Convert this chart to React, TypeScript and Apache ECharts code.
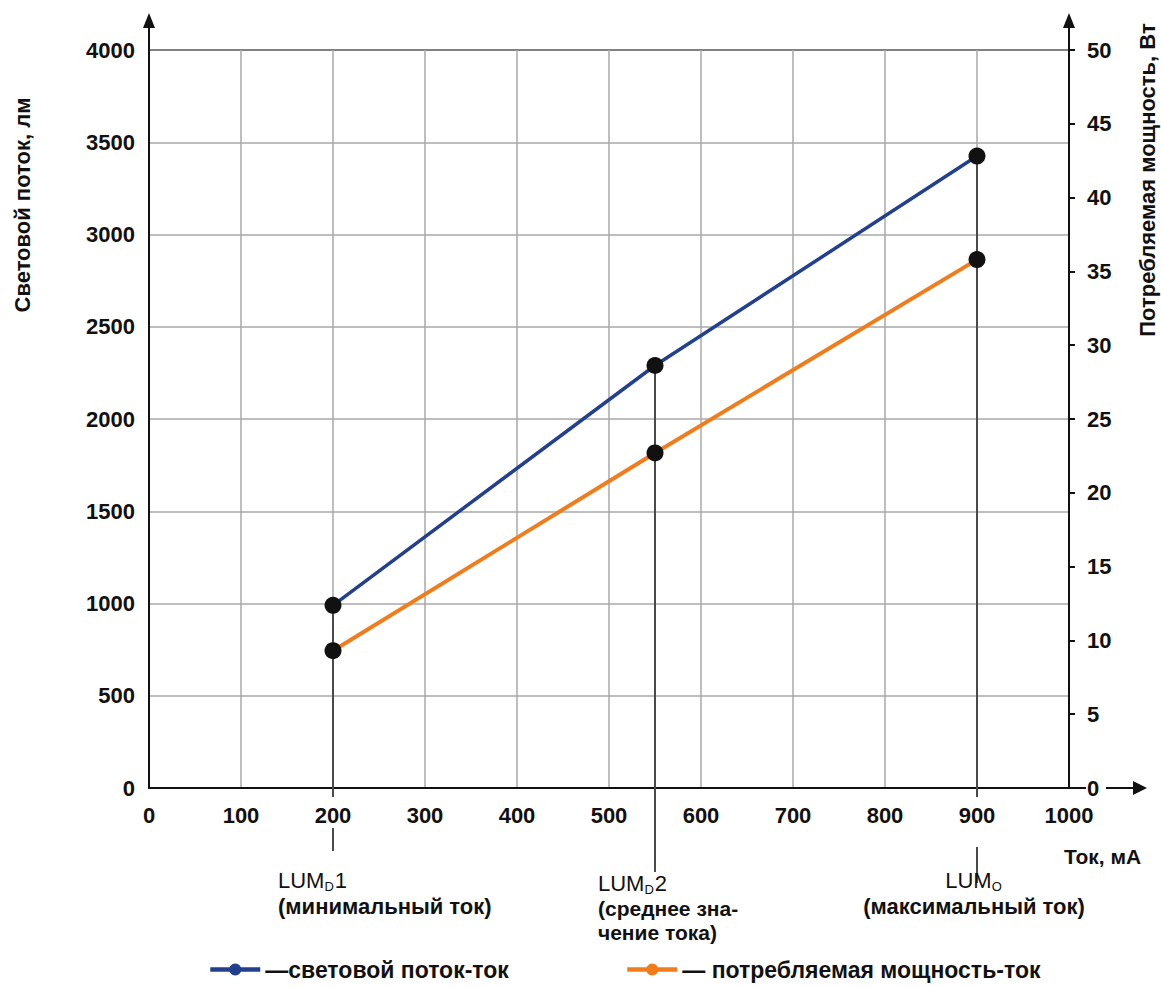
import React, { useEffect, useRef } from "react";
import * as echarts from "echarts";

// ---- data ----
const currents = [200, 550, 900]; // мА
const flux = [990, 2290, 3425]; // лм
const power = [9.3, 22.7, 35.8]; // Вт
const seriesNames = ["световой поток-ток", "потребляемая мощность-ток"];
const lumMain = ["LUM", "LUM", "LUM"];
const lumSub = ["D", "D", "O"];
const lumTail = ["1", "2", ""];
const lumNotes = [["(минимальный ток)"], ["(среднее зна-", "чение тока)"], ["(максимальный ток)"]];

// ---- layout / style for annotations (pixel offsets below the x axis) ----
const dropLayout = [
  { tick: 9, seg: [40, 63], textDx: -55, align: "left", lumY: 92, noteTop: 107, noteSize: 22, noteLH: 24 },
  { tick: 84, seg: null, textDx: -57, align: "left", lumY: 95, noteTop: 110, noteSize: 21, noteLH: 24 },
  { tick: 9, seg: [59, 95], textDx: -3, align: "center", lumY: 92, noteTop: 107, noteSize: 22, noteLH: 24 },
];
const LUM_SIZE = 22;
const SUB_SIZE = 13;
const SUB_DROP = 6;

const FONT = "'Liberation Sans', Arial, Helvetica, sans-serif";
const BLUE = "#23408e";
const ORANGE = "#f07c1c";
const INK = "#111";
const plain = (v: number) => String(v);

export default function App() {
  const ref = useRef<HTMLDivElement>(null);

  useEffect(() => {
    if (!ref.current) return;
    const chart = echarts.init(ref.current, undefined, { renderer: "svg" });

    const ctx = document.createElement("canvas").getContext("2d") as CanvasRenderingContext2D;
    const measure = (t: string, size: number) => {
      if (!t) return 0;
      ctx.font = `${size}px ${FONT}`;
      return ctx.measureText(t).width;
    };

    const fluxData = currents.map((c, i) => [c, flux[i]]);
    const powerData = currents.map((c, i) => [c, power[i]]);
    const tickFont = { color: INK, fontSize: 22, fontWeight: "bold", fontFamily: FONT, formatter: plain };
    const legendText = { fontSize: 23, fontWeight: "bold", color: INK, fontFamily: FONT };

    const option: any = {
      animation: false,
      textStyle: { fontFamily: FONT },
      grid: {
        left: 149,
        right: 92,
        top: 50,
        bottom: 199,
        show: true,
        borderColor: INK,
        borderWidth: 2,
        backgroundColor: "transparent",
      },
      xAxis: {
        type: "value",
        min: 0,
        max: 1000,
        interval: 100,
        axisLine: { show: true, onZero: false, lineStyle: { color: INK, width: 2 } },
        axisTick: { show: false },
        axisLabel: { ...tickFont, margin: 16 },
        splitLine: { show: true, lineStyle: { color: "#a9a9a9", width: 1.5 } },
      },
      yAxis: [
        {
          type: "value",
          min: 0,
          max: 4000,
          interval: 500,
          position: "left",
          axisLine: { show: true, lineStyle: { color: INK, width: 2 } },
          axisTick: { show: false },
          axisLabel: { ...tickFont, margin: 14 },
          splitLine: { show: true, lineStyle: { color: "#a9a9a9", width: 1.5 } },
        },
        {
          type: "value",
          min: 0,
          max: 50,
          interval: 5,
          position: "right",
          axisLine: { show: true, lineStyle: { color: INK, width: 2 } },
          axisTick: { show: true, inside: false, length: 6, lineStyle: { color: INK, width: 2 } },
          axisLabel: { ...tickFont, margin: 18 },
          splitLine: { show: false },
        },
      ],
      legend: [
        {
          data: [{ name: seriesNames[0], itemStyle: { color: BLUE }, lineStyle: { width: 4.5 } }],
          left: 208,
          top: 958,
          padding: 0,
          itemWidth: 50,
          itemHeight: 15,
          formatter: (n: string) => "—" + n,
          textStyle: legendText,
        },
        {
          data: [{ name: seriesNames[1], itemStyle: { color: ORANGE }, lineStyle: { width: 4.5 } }],
          left: 625,
          top: 958,
          padding: 0,
          itemWidth: 50,
          itemHeight: 15,
          formatter: (n: string) => "— " + n,
          textStyle: legendText,
        },
      ],
      series: [
        {
          type: "custom",
          name: "drop",
          xAxisIndex: 0,
          yAxisIndex: 0,
          z: 1,
          clip: false,
          silent: true,
          data: fluxData,
          renderItem: (params: any, api: any) => {
            const i = params.dataIndex;
            const lay = dropLayout[i];
            const x = api.value(0);
            const top = api.coord([x, api.value(1)]);
            const base = api.coord([x, 0]);
            const stroke = { stroke: "#4a4a4a", lineWidth: 2 };
            const children: any[] = [
              {
                type: "line",
                shape: { x1: top[0], y1: top[1], x2: base[0], y2: base[1] + lay.tick },
                style: stroke,
              },
            ];
            if (lay.seg) {
              children.push({
                type: "line",
                shape: { x1: base[0], y1: base[1] + lay.seg[0], x2: base[0], y2: base[1] + lay.seg[1] },
                style: stroke,
              });
            }
            // "LUM" + subscript + tail, laid out from measured widths
            const wMain = measure(lumMain[i], LUM_SIZE);
            const wSub = measure(lumSub[i], SUB_SIZE) + 1;
            const wTail = measure(lumTail[i], LUM_SIZE);
            const total = wMain + wSub + wTail;
            const ax = base[0] + lay.textDx;
            const startX = lay.align === "center" ? ax - total / 2 : ax;
            const ly = base[1] + lay.lumY;
            const txt = (t: string, tx: number, ty: number, size: number) => ({
              type: "text",
              x: tx,
              y: ty,
              style: {
                text: t,
                align: "left",
                verticalAlign: "middle",
                fontSize: size,
                fontFamily: FONT,
                fill: INK,
              },
            });
            children.push(txt(lumMain[i], startX, ly, LUM_SIZE));
            children.push(txt(lumSub[i], startX + wMain, ly + SUB_DROP, SUB_SIZE));
            if (lumTail[i]) children.push(txt(lumTail[i], startX + wMain + wSub, ly, LUM_SIZE));
            lumNotes[i].forEach((note, k) => {
              children.push({
                type: "text",
                x: ax,
                y: base[1] + lay.noteTop + k * lay.noteLH,
                style: {
                  text: note,
                  align: lay.align,
                  verticalAlign: "top",
                  fontSize: lay.noteSize,
                  fontWeight: "bold",
                  fontFamily: FONT,
                  fill: INK,
                },
              });
            });
            return { type: "group", children };
          },
        },
        {
          type: "line",
          name: seriesNames[0],
          yAxisIndex: 0,
          data: fluxData,
          symbol: "circle",
          symbolSize: 17,
          z: 3,
          lineStyle: { color: BLUE, width: 3.5 },
          itemStyle: { color: INK },
        },
        {
          type: "line",
          name: seriesNames[1],
          yAxisIndex: 1,
          data: powerData,
          symbol: "circle",
          symbolSize: 17,
          z: 3,
          lineStyle: { color: ORANGE, width: 4 },
          itemStyle: { color: INK },
        },
      ],
    };

    chart.setOption(option);

    // decorations (arrows, axis names) placed from the axes' own pixel positions
    const origin = chart.convertToPixel({ gridIndex: 0 }, [0, 0]) as number[];
    const corner = chart.convertToPixel({ gridIndex: 0 }, [1000, 4000]) as number[];
    const x0 = origin[0];
    const y0 = origin[1];
    const x1 = corner[0];
    const yTop = corner[1];
    const axisStroke = { stroke: INK, lineWidth: 2 };
    const arrowUp = (x: number) => [
      { type: "line", shape: { x1: x, y1: yTop, x2: x, y2: yTop - 24 }, style: axisStroke },
      {
        type: "polygon",
        shape: { points: [[x, yTop - 37], [x - 6, yTop - 22], [x + 6, yTop - 22]] },
        style: { fill: INK },
      },
    ];
    const nameStyle = {
      align: "center",
      verticalAlign: "middle",
      fontSize: 22,
      fontWeight: "bold",
      fontFamily: FONT,
      fill: INK,
    };

    chart.setOption({
      graphic: [
        ...arrowUp(x0),
        ...arrowUp(x1),
        { type: "line", shape: { x1: x1, y1: y0, x2: x1 + 17, y2: y0 }, style: axisStroke },
        { type: "line", shape: { x1: x1 + 37, y1: y0, x2: x1 + 66, y2: y0 }, style: axisStroke },
        {
          type: "polygon",
          shape: { points: [[x1 + 78, y0], [x1 + 64, y0 - 7], [x1 + 64, y0 + 7]] },
          style: { fill: INK },
        },
        {
          type: "text",
          x: 22,
          y: 205,
          rotation: Math.PI / 2,
          style: { ...nameStyle, text: "Световой поток, лм" },
        },
        {
          type: "text",
          x: 1147,
          y: 180,
          rotation: Math.PI / 2,
          style: { ...nameStyle, text: "Потребляемая мощность, Вт" },
        },
        {
          type: "text",
          x: 1064,
          y: 856,
          style: { ...nameStyle, align: "left", fontSize: 21, text: "Ток, мА" },
        },
      ],
    });

    return () => chart.dispose();
  }, []);

  return (
    <div
      ref={ref}
      style={{ position: "absolute", left: 0, top: 0, width: 1161, height: 987, background: "#fff" }}
    />
  );
}
